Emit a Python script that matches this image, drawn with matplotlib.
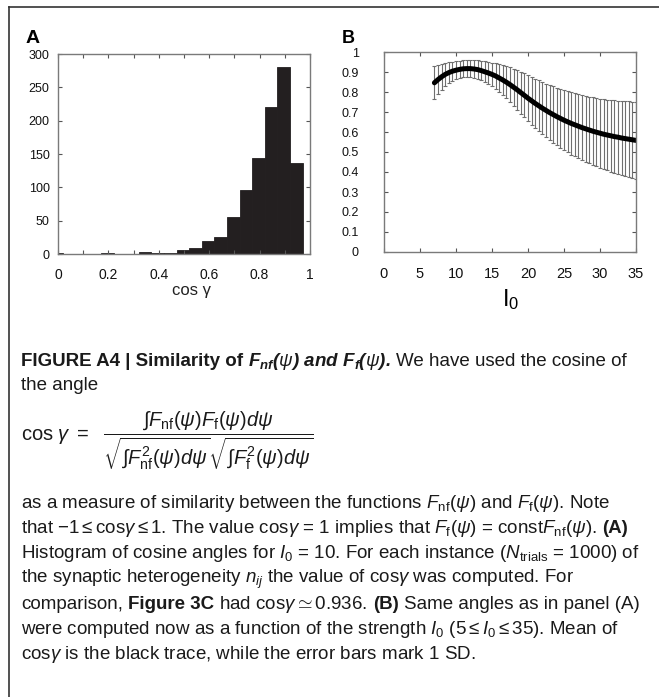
"""Figure A4: similarity of F_nf and F_f (histogram of cos gamma and its I0 dependence)."""

import matplotlib

matplotlib.use("Agg")
import matplotlib.pyplot as plt
import numpy as np
from matplotlib.lines import Line2D

W, H = 659, 697

plt.rcParams["font.family"] = ["Liberation Sans", "DejaVu Sans"]
plt.rcParams["mathtext.fontset"] = "custom"
plt.rcParams["mathtext.rm"] = "Liberation Sans"
plt.rcParams["mathtext.it"] = "Liberation Sans:italic"
plt.rcParams["mathtext.bf"] = "Liberation Sans:italic:bold"

# Panel A: histogram of cos(gamma) for I0 = 10, N_trials = 1000
cos_edges = [-0.029, 0.021, 0.071, 0.121, 0.171, 0.221, 0.271, 0.321, 0.371, 0.421,
             0.471, 0.521, 0.571, 0.621, 0.671, 0.721, 0.771, 0.821, 0.871, 0.921, 0.971]
cos_counts = [1, 0, 0, 0, 1, 0, 0, 3, 2, 1, 6, 9, 20, 25, 56, 96, 144, 220, 280, 136]

# Panel B: mean and SD of cos(gamma) versus input strength I0
i0_values = [7.0, 7.5, 8.0, 8.5, 9.0, 9.5, 10.0, 10.5, 11.0, 11.5, 12.0, 12.5, 13.0,
             13.5, 14.0, 14.5, 15.0, 15.5, 16.0, 16.5, 17.0, 17.5, 18.0, 18.5, 19.0,
             19.5, 20.0, 20.5, 21.0, 21.5, 22.0, 22.5, 23.0, 23.5, 24.0, 24.5, 25.0,
             25.5, 26.0, 26.5, 27.0, 27.5, 28.0, 28.5, 29.0, 29.5, 30.0, 30.5, 31.0,
             31.5, 32.0, 32.5, 33.0, 33.5, 34.0, 34.5, 35.0]
cos_mean = [0.846, 0.862, 0.876, 0.888, 0.897, 0.904, 0.909, 0.913, 0.916, 0.917,
            0.917, 0.915, 0.912, 0.907, 0.901, 0.895, 0.888, 0.880, 0.870, 0.860,
            0.849, 0.837, 0.824, 0.811, 0.797, 0.783, 0.769, 0.756, 0.743, 0.731,
            0.719, 0.708, 0.697, 0.687, 0.677, 0.668, 0.659, 0.651, 0.643, 0.636,
            0.629, 0.622, 0.616, 0.610, 0.604, 0.599, 0.594, 0.589, 0.585, 0.581,
            0.577, 0.574, 0.570, 0.567, 0.564, 0.561, 0.558]
cos_sd = [0.082, 0.072, 0.064, 0.057, 0.052, 0.048, 0.045, 0.043, 0.042, 0.042,
          0.043, 0.044, 0.046, 0.049, 0.052, 0.055, 0.059, 0.064, 0.069, 0.075,
          0.081, 0.087, 0.093, 0.099, 0.105, 0.110, 0.115, 0.119, 0.123, 0.127,
          0.131, 0.134, 0.138, 0.141, 0.144, 0.147, 0.150, 0.153, 0.156, 0.158,
          0.161, 0.163, 0.165, 0.167, 0.169, 0.171, 0.173, 0.175, 0.177, 0.179,
          0.181, 0.183, 0.185, 0.187, 0.189, 0.191, 0.193]

hist_xticks = [0, 0.1, 0.2, 0.3, 0.4, 0.5, 0.6, 0.7, 0.8, 0.9, 1.0]
hist_xlabels = ["0", "", "0.2", "", "0.4", "", "0.6", "", "0.8", "", "1"]
hist_yticks = [0, 50, 100, 150, 200, 250, 300]
i0_ticks = [0, 5, 10, 15, 20, 25, 30, 35]
cos_ticks = [0, 0.1, 0.2, 0.3, 0.4, 0.5, 0.6, 0.7, 0.8, 0.9, 1.0]
cos_ticklabels = ["0", "0.1", "0.2", "0.3", "0.4", "0.5", "0.6", "0.7", "0.8", "0.9", "1"]

SPINE = "#7a7a7a"
BAR = "#231f20"


def fig_rect(left, top, width, height):
    return [left / W, 1 - (top + height) / H, width / W, height / H]


def matlab_axes(ax):
    for sp in ax.spines.values():
        sp.set_color(SPINE)
        sp.set_linewidth(1.0)
    ax.tick_params(direction="in", length=3, width=0.8, color="#555555",
                   top=True, right=True, labelcolor="#111111")


fig = plt.figure(figsize=(W / 100, H / 100), dpi=100)

# --- panel A
ax_a = fig.add_axes(fig_rect(58, 54, 252, 200))
edges = np.array(cos_edges)
ax_a.bar(edges[:-1], cos_counts, width=np.diff(edges), align="edge",
         color=BAR, edgecolor=BAR, linewidth=0.6)
ax_a.set_xlim(0, 1)
ax_a.set_ylim(0, 300)
ax_a.set_xticks(hist_xticks)
ax_a.set_xticklabels(hist_xlabels)
ax_a.set_yticks(hist_yticks)
matlab_axes(ax_a)
ax_a.tick_params(axis="x", labelsize=10, pad=10)
ax_a.tick_params(axis="y", labelsize=9, pad=6)
fig.text(192 / W, 1 - 291 / H, "cos γ", ha="center", va="center", fontsize=12,
         color="#222222")
fig.text(26 / W, 1 - 43 / H, "A", fontsize=14, fontweight="bold", ha="left",
         va="baseline")

# --- panel B
ax_b = fig.add_axes(fig_rect(384, 52, 252, 200))
ax_b.errorbar(i0_values, cos_mean, yerr=cos_sd, fmt="none", ecolor="#6f6f6f",
              elinewidth=0.8, capsize=1.6, capthick=0.8)
ax_b.plot(i0_values, cos_mean, color="black", linewidth=3.6, solid_capstyle="round")
ax_b.set_xlim(0, 35)
ax_b.set_ylim(0, 1)
ax_b.set_xticks(i0_ticks)
ax_b.set_yticks(cos_ticks)
ax_b.set_yticklabels(cos_ticklabels)
matlab_axes(ax_b)
ax_b.tick_params(axis="x", labelsize=10.5, pad=11)
ax_b.tick_params(axis="y", labelsize=9, pad=18)
fig.text(511 / W, 1 - 300 / H, r"$\mathrm{I_0}$", ha="center", va="center",
         fontsize=17)
fig.text(342 / W, 1 - 43 / H, "B", fontsize=13, fontweight="bold", ha="left",
         va="baseline")

# --- frame lines
fig.add_artist(Line2D([9 / W, 1], [1 - 7 / H] * 2, transform=fig.transFigure,
                      color="#333333", linewidth=1.2))
fig.add_artist(Line2D([9 / W] * 2, [0, 1 - 7 / H], transform=fig.transFigure,
                      color="#333333", linewidth=1.2))

# --- caption
CAP = 13.5
X0 = 21
renderer = fig.canvas.get_renderer()
space_px = CAP * 100 / 72 * 0.278


def caption_line(y_px, runs, x_px=X0):
    x = x_px
    for i, (s, kw) in enumerate(runs):
        if i > 0:
            x += space_px
        t = fig.text(x / W, 1 - y_px / H, s, ha="left", va="baseline",
                     fontsize=CAP, color="#1a1a1a", **kw)
        x += t.get_window_extent(renderer).width


bold = {"fontweight": "bold"}
plain = {}

caption_line(366, [
    ("FIGURE A4 | Similarity of", bold),
    (r"$\mathbf{F_{nf}(}\psi\mathbf{)\ and\ F_{f}(}\psi\mathbf{).}$", plain),
    ("We have used the cosine of", plain),
])
caption_line(390, [("the angle", plain)])

fig.text(X0 / W, 1 - 441 / H,
         r"$\mathrm{cos}\ \gamma\ =\ \ \dfrac{\int F_{\mathrm{nf}}(\psi)F_{\mathrm{f}}(\psi)d\psi}"
         r"{\sqrt{\int F^{2}_{\mathrm{nf}}(\psi)d\psi}\sqrt{\int F^{2}_{\mathrm{f}}(\psi)d\psi}}$",
         ha="left", va="baseline", fontsize=14.5, color="#1a1a1a")

caption_line(508, [(r"as a measure of similarity between the functions "
                    r"$F_{\mathrm{nf}}(\psi)$ and $F_{\mathrm{f}}(\psi)$. Note", plain)])
caption_line(533, [
    (r"that $-1\leq\mathrm{cos}\gamma\leq1$. The value cos$\gamma$ = 1 implies that "
     r"$F_{\mathrm{f}}(\psi)$ = const$F_{\mathrm{nf}}(\psi)$.", plain),
    ("(A)", bold),
])
caption_line(558, [(r"Histogram of cosine angles for $I_0$ = 10. For each instance "
                    r"($N_{\mathrm{trials}}$ = 1000) of", plain)])
caption_line(583, [(r"the synaptic heterogeneity $n_{ij}$ the value of cos$\gamma$ "
                    r"was computed. For", plain)])
caption_line(609, [
    ("comparison,", plain),
    ("Figure 3C", bold),
    (r"had $\mathrm{cos}\gamma\simeq0.936$.", plain),
    ("(B)", bold),
    ("Same angles as in panel (A)", plain),
])
caption_line(634, [(r"were computed now as a function of the strength $I_0$ "
                    r"($5\leq I_0\leq35$). Mean of", plain)])
caption_line(659, [(r"cos$\gamma$ is the black trace, while the error bars mark 1 SD.",
                    plain)])

fig.savefig("out.png", dpi=100)
